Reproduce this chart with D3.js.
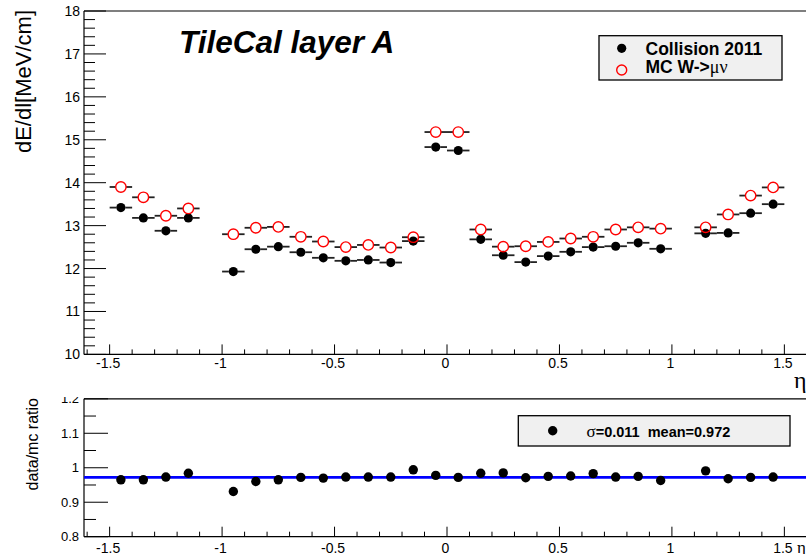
<!DOCTYPE html>
<html><head><meta charset="utf-8">
<script src="https://cdn.jsdelivr.net/npm/d3@7"></script>
<style>body{margin:0;background:#fff}svg{display:block;font-family:"Liberation Sans",Arial,Helvetica,sans-serif}</style>
</head><body>
<svg id="c" width="806" height="554"></svg>
<script>
const eta = [-1.45,-1.35,-1.25,-1.15,-0.95,-0.85,-0.75,-0.65,-0.55,-0.45,-0.35,-0.25,-0.15,-0.05,0.05,0.15,0.25,0.35,0.45,0.55,0.65,0.75,0.85,0.95,1.15,1.25,1.35,1.45];
const dataVals = [13.42,13.18,12.88,13.18,11.93,12.45,12.51,12.38,12.25,12.18,12.20,12.14,12.64,14.83,14.75,12.68,12.31,12.15,12.29,12.39,12.50,12.52,12.60,12.46,12.82,12.83,13.29,13.50];
const mcVals = [13.90,13.66,13.23,13.40,12.80,12.95,12.97,12.74,12.63,12.50,12.55,12.49,12.73,15.18,15.18,12.91,12.51,12.52,12.62,12.70,12.74,12.91,12.96,12.93,12.96,13.26,13.70,13.89];
const ratioVals = [0.965,0.965,0.973,0.984,0.931,0.960,0.965,0.972,0.970,0.973,0.973,0.973,0.994,0.978,0.972,0.984,0.985,0.971,0.975,0.976,0.983,0.973,0.975,0.963,0.991,0.968,0.972,0.973];
const binHalf = 0.05;
const meanRatio = 0.972;
const sigmaRatio = 0.011;
const xTicks = [-1.5,-1,-0.5,0,0.5,1,1.5];
const xTickLabels = ["-1.5","-1","-0.5","0","0.5","1","1.5"];
const yTopTicks = [10,11,12,13,14,15,16,17,18];
const yBotTicks = [0.8,0.9,1,1.1,1.2];

const svg = d3.select("#c");
svg.append("defs").append("clipPath").attr("id","lowpad").append("rect").attr("x",0).attr("y",397).attr("width",806).attr("height",157);
const x = d3.scaleLinear().domain([-1.614,1.614]).range([84,810]);
const yT = d3.scaleLinear().domain([10,18]).range([354.4,11]);
const yB = d3.scaleLinear().domain([0.8,1.2]).range([536.7,398.8]);
const L = 84;

function frame(top, bottom){
  svg.append("line").attr("x1",L).attr("x2",806).attr("y1",top).attr("y2",top).attr("stroke","#000").attr("stroke-width",1.2);
  svg.append("line").attr("x1",L).attr("x2",806).attr("y1",bottom).attr("y2",bottom).attr("stroke","#000").attr("stroke-width",1.2);
  svg.append("line").attr("x1",L).attr("x2",L).attr("y1",top).attr("y2",bottom).attr("stroke","#000").attr("stroke-width",1.2);
}
function xAxisTicks(bottom, labelY, fs){
  const minors = d3.range(-16,17).map(d=>d/10);
  const g = svg.append("g");
  minors.forEach(v=>{
    const major = Math.abs(v*2-Math.round(v*2))<1e-9;
    g.append("line").attr("x1",x(v)).attr("x2",x(v)).attr("y1",bottom).attr("y2",bottom-(major?10:5)).attr("stroke","#000").attr("stroke-width",1);
  });
  xTicks.forEach((v,i)=>{
    g.append("text").attr("x",x(v)-1.5).attr("y",labelY).attr("text-anchor","middle").attr("font-size",fs).text(xTickLabels[i]);
  });
}
// ---------- top panel ----------
frame(yT(18), yT(10));
xAxisTicks(yT(10), 368, 14);
d3.range(10,18.01,0.2).forEach(v=>{
  const major = Math.abs(v-Math.round(v))<1e-6;
  svg.append("line").attr("x1",L).attr("x2",L+(major?22:11)).attr("y1",yT(v)).attr("y2",yT(v)).attr("stroke","#000").attr("stroke-width",1);
});
yTopTicks.forEach(v=>{
  svg.append("text").attr("x",80).attr("y",yT(v)+5).attr("text-anchor","end").attr("font-size",14).text(v);
});
svg.append("text").attr("transform","translate(31,10) rotate(-90)").attr("text-anchor","end").attr("font-size",22).text("dE/dl[MeV/cm]");
svg.append("text").attr("x",794).attr("y",388).attr("font-size",24).attr("font-family","Liberation Serif, Times New Roman, serif").text("η");

// error bars + markers
function hbars(vals, r){
  vals.forEach((v,i)=>{
    const cx=x(eta[i]), cy=yT(v);
    svg.append("line").attr("x1",x(eta[i]-binHalf)).attr("x2",cx-r).attr("y1",cy).attr("y2",cy).attr("stroke","#222").attr("stroke-width",1.8);
    svg.append("line").attr("x1",cx+r).attr("x2",x(eta[i]+binHalf)).attr("y1",cy).attr("y2",cy).attr("stroke","#222").attr("stroke-width",1.8);
  });
}
hbars(dataVals,4.5);
svg.append("g").selectAll("circle").data(dataVals).join("circle")
  .attr("cx",(d,i)=>x(eta[i])).attr("cy",d=>yT(d)).attr("r",4.6).attr("fill","#000");
hbars(mcVals,5.2);
svg.append("g").selectAll("circle").data(mcVals).join("circle")
  .attr("cx",(d,i)=>x(eta[i])).attr("cy",d=>yT(d)).attr("r",5.2).attr("fill","none").attr("stroke","#ff0000").attr("stroke-width",1.4);

// title
svg.append("text").attr("x",179).attr("y",52.5).attr("font-size",31.5).attr("font-weight","bold").attr("font-style","italic").text("TileCal layer A");

// legend
svg.append("rect").attr("x",599).attr("y",35.7).attr("width",183).attr("height",44.3).attr("fill","#f0f0f0").attr("stroke","#000").attr("stroke-width",1.3);
svg.append("circle").attr("cx",621.7).attr("cy",48.3).attr("r",4.6).attr("fill","#000");
svg.append("circle").attr("cx",621.7).attr("cy",70).attr("r",5).attr("fill","none").attr("stroke","#ff0000").attr("stroke-width",1.4);
svg.append("text").attr("x",645.5).attr("y",55).attr("font-size",17.5).attr("font-weight","bold").text("Collision 2011");
const t2 = svg.append("text").attr("x",645.5).attr("y",73).attr("font-size",17.5).attr("font-weight","bold");
t2.append("tspan").text("MC W->");
t2.append("tspan").attr("font-weight","normal").attr("font-family","Liberation Serif, Times New Roman, serif").attr("font-size",18).text("μν");

// ---------- bottom panel ----------
frame(yB(1.2), yB(0.8));
xAxisTicks(yB(0.8), 553, 14);
d3.range(0.8,1.2001,0.05).forEach(v=>{
  const major = Math.abs(v*10-Math.round(v*10))<1e-6;
  svg.append("line").attr("x1",L).attr("x2",L+(major?24:12)).attr("y1",yB(v)).attr("y2",yB(v)).attr("stroke","#000").attr("stroke-width",1);
});
const yl = svg.append("g").attr("clip-path","url(#lowpad)");
yBotTicks.forEach(v=>{
  yl.append("text").attr("x",79).attr("y",yB(v)+4.5).attr("text-anchor","end").attr("font-size",13).text(d3.format("")(v));
});
svg.append("text").attr("transform","translate(38,398) rotate(-90)").attr("text-anchor","end").attr("font-size",16).text("data/mc ratio");
svg.append("text").attr("x",797).attr("y",553).attr("font-size",17).attr("font-family","Liberation Serif, Times New Roman, serif").text("η");

svg.append("line").attr("x1",L).attr("x2",806).attr("y1",yB(meanRatio)).attr("y2",yB(meanRatio)).attr("stroke","#0000ff").attr("stroke-width",2.6);
svg.append("g").selectAll("circle").data(ratioVals).join("circle")
  .attr("cx",(d,i)=>x(eta[i])).attr("cy",d=>yB(d)).attr("r",4.7).attr("fill","#000");

svg.append("rect").attr("x",518.3).attr("y",415.7).attr("width",271.7).attr("height",30.3).attr("fill","#f0f0f0").attr("stroke","#000").attr("stroke-width",1.3);
svg.append("circle").attr("cx",552.7).attr("cy",430.7).attr("r",4.7).attr("fill","#000");
const t3 = svg.append("text").attr("x",586.5).attr("y",436.5).attr("font-size",14.5).attr("font-weight","bold");
t3.append("tspan").attr("font-weight","normal").attr("font-family","Liberation Serif, Times New Roman, serif").attr("font-size",17).text("σ");
t3.append("tspan").text("=" + sigmaRatio + "\u00a0\u00a0mean=" + meanRatio);
</script>
</body></html>
